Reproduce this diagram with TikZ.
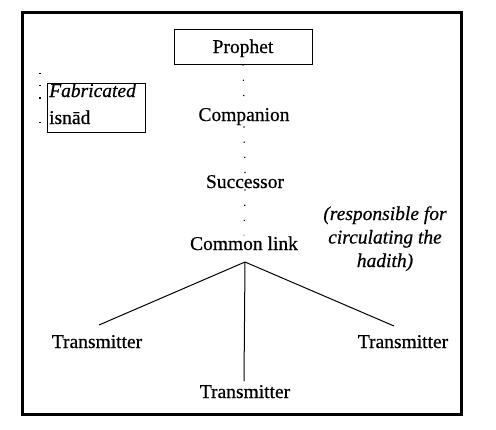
\documentclass[tikz,border=0pt]{standalone}
\usepackage{fontspec}
\setmainfont{Liberation Serif}[FakeBold=0.6, AutoFakeBold=0.6]
\begin{document}
\begin{tikzpicture}[x=1pt,y=-1pt,
  lbl/.style={font=\fontsize{19.5}{22}\selectfont\bfseries, inner sep=1pt, anchor=base},
  note/.style={font=\fontsize{19.5}{23.5}\selectfont\bfseries\itshape, align=center, inner sep=0pt},
  sparse/.style={line width=1.2pt, dash pattern=on 1.2pt off 14pt},
  link/.style={line width=1pt}]
\useasboundingbox (0,0) rectangle (496,429);
\draw[line width=3pt] (22,12) rectangle (461,414);
% Prophet
\node[draw, line width=1pt, minimum width=138pt, minimum height=35pt, inner sep=0pt] (prophet) at (243,46.5) {};
\node[lbl] (ptext) at (243,53) {Prophet};
% fabricated isnad
\node[draw, line width=1pt, minimum width=98pt, minimum height=49pt, inner sep=0pt, anchor=north west] (fab) at (47,83) {};
\node[lbl, anchor=base west, inner sep=0pt] (fabt) at (49,97) {\textit{Fabricated}};
\node[lbl, anchor=base west, inner sep=0pt] (isn) at (49,124) {isnād};
\coordinate (ftop) at (40,73);
\coordinate (fbot) at (40,124);
\draw[line width=1.2pt, dash pattern=on 1.2pt off 11pt on 1.2pt off 11pt on 1.2pt off 23.5pt on 1.2pt] (ftop) -- (fbot);
\node[lbl] (comp) at (244,121) {Companion};
\node[lbl] (succ) at (245,188) {Successor};
\node[lbl] (cl) at (244,250) {Common link};
\node[note, anchor=base] (resp) at (385,267) {(responsible for\\circulating the\\hadith)};
\coordinate (hub) at (245,262);
\draw[sparse] (prophet.south) -- (comp.north);
\draw[sparse] (comp.south) -- (succ.north);
\draw[sparse] (succ.south) -- (cl.north);
\node[lbl] (t1) at (97,348) {Transmitter};
\node[lbl] (t3) at (403,348) {Transmitter};
\node[lbl] (t2) at (245,398) {Transmitter};
\draw[link] (hub) -- (99,325);
\draw[link] (hub) -- (394,326);
\draw[link] (hub) -- (244,381);
\end{tikzpicture}
\end{document}
